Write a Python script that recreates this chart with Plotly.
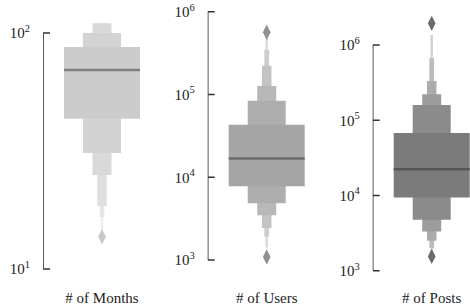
import math
import plotly.graph_objects as go

# ---- data ----
panel_labels = ["# of Months", "# of Users", "# of Posts"]

# letter-value boxes, inner (IQR) to outer: (low, high)
months_lv = [(43.3, 87.3), (31.0, 100.0), (25.0, 110.0), (18.5, 110.0), (16.6, 110.0), (14.6, 110.0)]
months_median = 69.7
months_outliers = [13.7]

users_lv = [(7.8e3, 4.3e4), (4.86e3, 8.4e4), (3.48e3, 1.27e5), (2.43e3, 2.22e5), (1.93e3, 3.46e5), (1.42e3, 4.69e5)]
users_median = 1.68e4
users_outliers = [1.09e3, 5.65e5]

posts_lv = [(9.4e3, 6.78e4), (4.74e3, 1.6e5), (3.32e3, 2.21e5), (2.5e3, 3.33e5), (2.0e3, 6.65e5), (1.8e3, 1.36e6)]
posts_median = 2.23e4
posts_outliers = [1.55e3, 1.94e6]

months_ticks = [10, 100]
users_ticks = [1e3, 1e4, 1e5, 1e6]
posts_ticks = [1e3, 1e4, 1e5, 1e6]

# ---- styles ----
level_widths = [0.8, 0.4, 0.2, 0.1, 0.05, 0.025]
colors = [
    ['#cccccc', '#d3d3d3', '#d9d9d9', '#dfdfdf', '#e5e5e5', '#ebebeb'],
    ['#a5a5a5', '#aeaeae', '#b8b8b8', '#c3c3c3', '#cdcdcd', '#d8d8d8'],
    ['#7b7b7b', '#8b8b8b', '#9c9c9c', '#ababab', '#bcbcbc', '#d0d0d0'],
]
median_colors = ['#7f7f7f', '#6b6b6b', '#565656']
outlier_colors = ['#c8c8c8', '#909090', '#6b6b6b']
yranges = [(0.9746, 2.1186), (2.819, 6.081), (2.943, 6.532)]
W = 470
spine_px = [43, 207.7, 372.7]
dom_w = 97.3
xrange_ = [-0.621, 0.403]
FONT = "Liberation Serif"
AX = '#333333'
TICK_LEN_UNITS = 7 / 95.0  # 7 px tick length in x units (95 px per unit)

panels = [
    (months_lv, months_median, months_outliers, months_ticks),
    (users_lv, users_median, users_outliers, users_ticks),
    (posts_lv, posts_median, posts_outliers, posts_ticks),
]

fig = go.Figure()
layout = dict(
    width=W, height=307,
    margin=dict(l=0, r=0, t=5, b=32),
    paper_bgcolor='white', plot_bgcolor='white',
    showlegend=False, barmode='overlay',
    font=dict(family=FONT, size=15, color='#222222'),
)
for i, (lv, med, outs, ticks) in enumerate(panels):
    xa = 'x' if i == 0 else f'x{i+1}'
    ya = 'y' if i == 0 else f'y{i+1}'
    # spine trimmed to first/last tick, with inward tick marks
    sx, sy = [xrange_[0], xrange_[0]], [ticks[0], ticks[-1]]
    for t in ticks:
        sx += [None, xrange_[0], xrange_[0] + TICK_LEN_UNITS]
        sy += [None, t, t]
    fig.add_trace(go.Scatter(
        x=sx, y=sy, mode='lines',
        line=dict(color=AX, width=1.6), xaxis=xa, yaxis=ya, hoverinfo='skip',
        cliponaxis=False))
    # draw outer levels first
    for k in reversed(range(len(lv))):
        lo, hi = lv[k]
        fig.add_trace(go.Bar(
            x=[0], y=[hi - lo], base=[lo], width=[level_widths[k]],
            marker=dict(color=colors[i][k], line=dict(width=0)),
            xaxis=xa, yaxis=ya, hoverinfo='skip'))
    fig.add_trace(go.Scatter(
        x=[-level_widths[0] / 2, level_widths[0] / 2], y=[med, med], mode='lines',
        line=dict(color=median_colors[i], width=2.5), xaxis=xa, yaxis=ya, hoverinfo='skip'))
    fig.add_trace(go.Scatter(
        x=[0] * len(outs), y=outs, mode='markers',
        marker=dict(symbol='diamond-tall', size=11, color=outlier_colors[i], line=dict(width=0)),
        xaxis=xa, yaxis=ya, hoverinfo='skip', cliponaxis=False))

    x0 = spine_px[i] / W
    x1 = min(1.0, (spine_px[i] + dom_w) / W)
    xkey = 'xaxis' if i == 0 else f'xaxis{i+1}'
    ykey = 'yaxis' if i == 0 else f'yaxis{i+1}'
    layout[xkey] = dict(
        domain=[x0, x1], range=xrange_, showgrid=False, zeroline=False, showline=False,
        tickvals=[0], ticktext=[panel_labels[i]], ticks='', ticklabelstandoff=12,
        tickfont=dict(family=FONT, size=15, color='#222222'), anchor=ya)
    layout[ykey] = dict(
        type='log', range=list(yranges[i]), showgrid=False, zeroline=False, showline=False,
        tickvals=ticks,
        ticktext=[f"10<sup>{int(round(math.log10(t)))}</sup>" for t in ticks],
        ticks='', ticklabelstandoff=12, automargin=False,
        tickfont=dict(family=FONT, size=15, color='#222222'), anchor=xa)

fig.update_layout(**layout)
fig.write_html("out.html", post_script="document.body.style.margin='0';",
               config={'displayModeBar': False})
